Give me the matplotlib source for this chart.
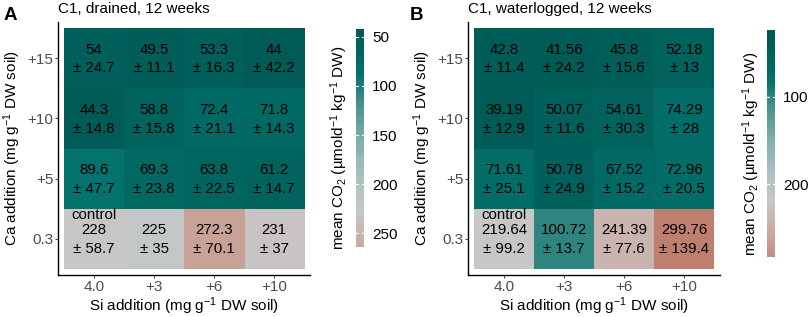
import numpy as np
import matplotlib
matplotlib.use("Agg")
import matplotlib.pyplot as plt
from matplotlib.colors import LinearSegmentedColormap, Normalize

plt.rcParams['font.family'] = ['Liberation Sans', 'DejaVu Sans']
plt.rcParams['mathtext.fontset'] = 'custom'
plt.rcParams['mathtext.rm'] = 'Liberation Sans'
plt.rcParams['mathtext.it'] = 'Liberation Sans:italic'

# data: rows bottom -> top (0.3, +5, +10, +15), cols 4.0, +3, +6, +10
si_labels = ['4.0', '+3', '+6', '+10']
ca_labels = ['0.3', '+5', '+10', '+15']

mean_a = [[228, 225, 272.3, 231],
          [89.6, 69.3, 63.8, 61.2],
          [44.3, 58.8, 72.4, 71.8],
          [54, 49.5, 53.3, 44]]
sd_a = [[58.7, 35, 70.1, 37],
        [47.7, 23.8, 22.5, 14.7],
        [14.8, 15.8, 21.1, 14.3],
        [24.7, 11.1, 16.3, 42.2]]

mean_b = [[219.64, 100.72, 241.39, 299.76],
          [71.61, 50.78, 67.52, 72.96],
          [39.19, 50.07, 54.61, 74.29],
          [42.8, 41.56, 45.8, 52.18]]
sd_b = [[99.2, 13.7, 77.6, 139.4],
        [25.1, 24.9, 15.2, 20.5],
        [12.9, 11.6, 30.3, 28],
        [11.4, 24.2, 15.6, 13]]

titles = ['C1, drained, 12 weeks', 'C1, waterlogged, 12 weeks']
panel_tags = ['A', 'B']
cbar_ticks = [[50, 100, 150, 200, 250], [100, 200]]
cbar_lims = [(42, 264), (24, 283)]

cmap = LinearSegmentedColormap.from_list('tealbrown', [
    (0.0, '#005b56'), (0.12, '#03736d'), (0.2, '#4a918c'), (0.3, '#80aeab'),
    (0.4, '#a9c0be'), (0.5, '#c8c8c8'), (0.6, '#caa89f'), (0.72, '#c08070'),
    (1.0, '#b04a2e')])

fig = plt.figure(figsize=(8.09, 3.17), dpi=100)
W, H = 809, 317

def fx(px):
    return px / W

def fy(py):
    return 1 - py / H

panels = [
    dict(means=mean_a, sds=sd_a, ax=(58, 22, 310, 275), cax=(356, 29, 364, 247),
         clab_x=339, tag_x=4, title_x=58),
    dict(means=mean_b, sds=sd_b, ax=(468, 22, 720, 275), cax=(767, 30, 775, 257),
         clab_x=751, tag_x=410, title_x=468),
]

xlab = 'Si addition (mg g$^{-1}$ DW soil)'
ylab = 'Ca addition (mg g$^{-1}$ DW soil)'
clab = 'mean CO$_2$ (µmold$^{-1}$ kg$^{-1}$ DW)'

for i, p in enumerate(panels):
    m = np.array(p['means'], dtype=float)
    s = np.array(p['sds'], dtype=float)
    mid = m[0, 0]  # control
    d = max(abs(m.min() - mid), abs(m.max() - mid))
    norm = Normalize(vmin=mid - d, vmax=mid + d)

    l, t, r, b = p['ax']
    ax = fig.add_axes([fx(l), fy(b), fx(r - l), (b - t) / H])
    ax.imshow(m, cmap=cmap, norm=norm, origin='lower',
              extent=[0.5, 4.5, 0.5, 4.5], aspect='auto', interpolation='nearest')
    ax.set_xlim(0.4, 4.6)
    ax.set_ylim(0.4, 4.6)
    for r_i in range(4):
        for c_i in range(4):
            x = c_i + 1
            y = r_i + 1
            ax.text(x, y + 0.14, f'{m[r_i, c_i]:g}', ha='center', va='center', fontsize=10.8)
            ax.text(x, y - 0.17, f'± {s[r_i, c_i]:g}', ha='center', va='center', fontsize=10.8)
            if r_i == 0 and c_i == 0:
                ax.text(x, y + 0.4, 'control', ha='center', va='center', fontsize=10.8)
    ax.set_xticks(range(1, 5))
    ax.set_xticklabels(si_labels)
    ax.set_yticks(range(1, 5))
    ax.set_yticklabels(ca_labels)
    ax.tick_params(colors='#4d4d4d', labelsize=11, length=2.5, width=0.8, pad=1)
    ax.spines['top'].set_visible(False)
    ax.spines['right'].set_visible(False)
    ax.spines['left'].set_linewidth(1)
    ax.spines['bottom'].set_linewidth(1)
    ax.set_xlabel(xlab, fontsize=11, va='baseline')
    ax.set_ylabel(ylab, fontsize=11)
    ax.xaxis.set_label_coords(0.5, -(311 - b) / (b - t))
    ax.yaxis.set_label_coords(-0.14, 0.5)

    fig.text(fx(p['title_x']), fy(9), titles[i], fontsize=11, va='center', ha='left')
    fig.text(fx(p['tag_x']), fy(16), panel_tags[i], fontsize=13.5, fontweight='bold',
             va='center', ha='left')

    # colorbar
    lo, hi = cbar_lims[i]
    cl, ct, cr, cb = p['cax']
    cax = fig.add_axes([fx(cl), fy(cb), fx(cr - cl), (cb - ct) / H])
    grad = np.linspace(lo, hi, 300)[:, None]
    cax.imshow(grad, cmap=cmap, norm=norm, origin='upper', aspect='auto',
               extent=[0, 1, hi, lo])
    cax.set_ylim(hi, lo)
    cax.set_xlim(0, 1)
    cax.set_xticks([])
    cax.yaxis.tick_right()
    cax.set_yticks(cbar_ticks[i])
    cax.tick_params(axis='y', length=0, labelsize=11, pad=6)
    for tv in cbar_ticks[i]:
        cax.plot([0, 0.2], [tv, tv], color='white', lw=0.8)
        cax.plot([0.8, 1], [tv, tv], color='white', lw=0.8)
    for sp in cax.spines.values():
        sp.set_visible(False)
    fig.text(fx(p['clab_x']), fy((ct + cb) / 2 + 10), clab, rotation=90,
             fontsize=11, ha='center', va='center')

fig.savefig('out.png', dpi=100)
